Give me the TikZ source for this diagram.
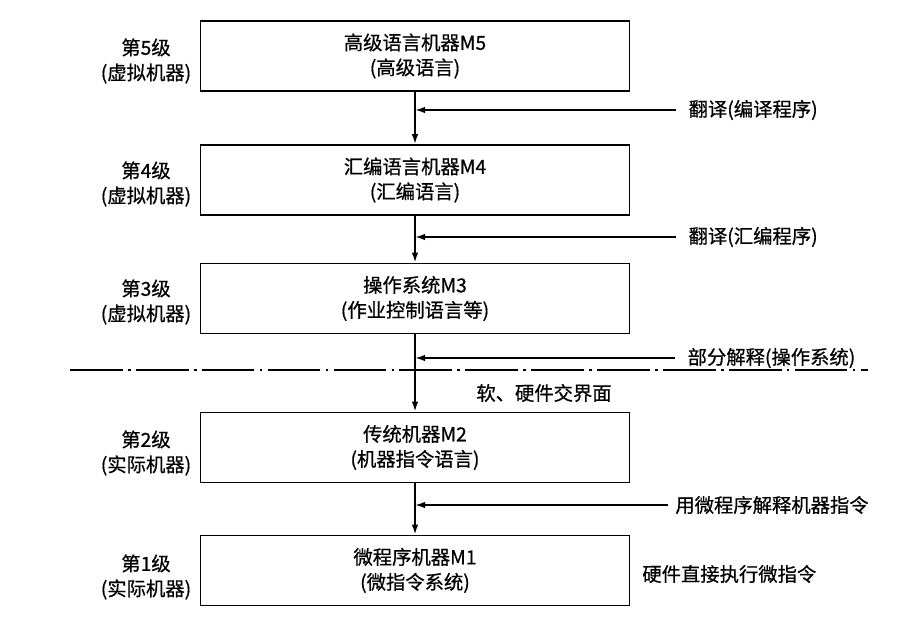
\documentclass[tikz,border=0pt]{standalone}
\usepackage{fontspec}
\setmainfont{Noto Sans CJK SC}[FakeBold=0.6]
\usetikzlibrary{positioning, arrows.meta}

\tikzset{
  machbox/.style={draw, line width=1pt, minimum width=8.58cm, minimum height=1.4cm, align=center},
  lvl/.style={align=center},
  flow/.style={-{Latex[length=2mm, width=1.3mm]}, line width=1pt},
  txt/.style={anchor=west, inner sep=0pt, xshift=7pt}
}

\begin{document}
\begin{tikzpicture}[x=0.02cm, y=-0.02cm, font=\fontsize{11}{14.2}\selectfont]
        \useasboundingbox (0,0) rectangle (913,623);
        % machines
        \node[machbox] (b5) at (415,56) {高级语言机器M5\\(高级语言)};
        \node[machbox] (b4) at (415,180) {汇编语言机器M4\\(汇编语言)};
        \node[machbox] (b3) at (415,298.5) {操作系统M3\\(作业控制语言等)};
        \node[machbox] (b2) at (415,447.5) {传统机器M2\\(机器指令语言)};
        \node[machbox] (b1) at (415,570.5) {微程序机器M1\\(微指令系统)};
        % levels
        \node[lvl] (l5) at (146,61) {第5级\\(虚拟机器)};
        \node[lvl] (l4) at (146,184) {第4级\\(虚拟机器)};
        \node[lvl] (l3) at (146,302) {第3级\\(虚拟机器)};
        \node[lvl] (l2) at (146,453) {第2级\\(实际机器)};
        \node[lvl] (l1) at (146,577) {第1级\\(实际机器)};
        \foreach \a/\b in {b5/b4, b4/b3, b3/b2, b2/b1}
          \draw[flow] (\a) -- (\b);
        % translation arrows
        \coordinate (t5) at (676,110);
        \coordinate (t4) at (676,237);
        \coordinate (t3) at (675,358);
        \coordinate (t2) at (668,505);
        \foreach \t in {t5, t4, t3, t2}
          \draw[flow] (\t) -- (\t -| b5.south);
        \node[txt] (n5) at (t5) {翻译(编译程序)};
        \node[txt] (n4) at (t4) {翻译(汇编程序)};
        \node[txt] (n3) at (t3) {部分解释(操作系统)};
        \node[txt, xshift=-3pt] (n2) at (t2) {用微程序解释机器指令};
        \node[txt, xshift=-7pt] (n1) at (642,574) {硬件直接执行微指令};
        % interface
        \coordinate (dl) at (70,370);
        \coordinate (dr) at (868,370);
        \draw[line width=1pt, dash pattern=on 30pt off 3pt on 1.5pt off 3pt] (dl) -- (dr);
        \node (iface) at (544,393) {软、硬件交界面};
     \end{tikzpicture}
\end{document}
